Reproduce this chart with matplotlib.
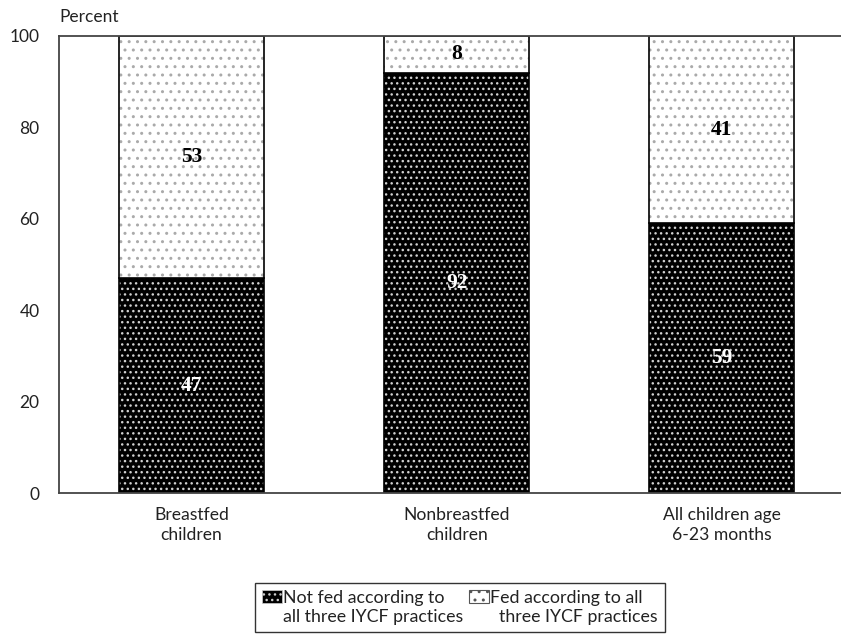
import matplotlib
matplotlib.use("Agg")
import matplotlib.pyplot as plt
import matplotlib.patches as mpatches
from matplotlib.legend_handler import HandlerPatch
import numpy as np

categories = ["Breastfed\nchildren", "Nonbreastfed\nchildren", "All children age\n6-23 months"]
not_fed = [47, 92, 59]
fed = [53, 8, 41]
series_labels = ["Not fed according to\nall three IYCF practices", "Fed according to all\n  three IYCF practices"]
yticks = [0, 20, 40, 60, 80, 100]

plt.rcParams['font.family'] = ['Lato', 'DejaVu Sans']
plt.rcParams['hatch.linewidth'] = 1.0
TXT = '#222222'

fig = plt.figure(figsize=(8.41, 6.36), dpi=100)
ax = fig.add_axes([59/841, 1-493/636, 1-59/841, (493-36)/636])

x = np.arange(len(categories))
w = 0.546

# dark segments
ax.bar(x, not_fed, width=w, color='black', edgecolor='none', linewidth=0)
ax.bar(x, not_fed, width=w, color='none', edgecolor='#d0d0d0', hatch='...', linewidth=0)
ax.bar(x, not_fed, width=w, color='none', edgecolor='black', linewidth=1.2)
# light segments
ax.bar(x, fed, bottom=not_fed, width=w, color='white', edgecolor='none', linewidth=0)
ax.bar(x, fed, bottom=not_fed, width=w, color='none', edgecolor='#aaaaaa', hatch='..', linewidth=0)
ax.bar(x, fed, bottom=not_fed, width=w, color='none', edgecolor='black', linewidth=1.2)

for xi, a, b in zip(x, not_fed, fed):
    ax.text(xi, a/2, str(a), ha='center', va='center', color='white',
            fontsize=15.5, fontweight='bold', family='Liberation Serif')
    ax.text(xi, a + b/2, str(b), ha='center', va='center', color='black',
            fontsize=15.5, fontweight='bold', family='Liberation Serif')

ax.set_xlim(-0.5, 2.45)
ax.set_ylim(0, 100)
ax.set_yticks(yticks)
ax.set_yticklabels([str(t) for t in yticks], fontsize=12.5, color=TXT)
ax.set_xticks(x)
ax.set_xticklabels(categories, fontsize=12.6, color=TXT, linespacing=1.35)
ax.tick_params(axis='x', length=0, pad=10)
ax.tick_params(axis='y', length=0, pad=14)
ax.spines['right'].set_visible(False)
for s in ['left', 'top', 'bottom']:
    ax.spines[s].set_color('#444444')
    ax.spines[s].set_linewidth(1.3)

fig.text(59/841, 1-17/636, "Percent", fontsize=12.5, va='center', ha='left', color=TXT)


def raised_patch(legend, orig_handle, xdescent, ydescent, width, height, fontsize):
    shift = 0.62 * fontsize
    return mpatches.Rectangle((-xdescent, -ydescent + shift), width, height)


h1 = mpatches.Patch(facecolor='black', edgecolor='#cccccc', hatch='...', linewidth=0.5)
h2 = mpatches.Patch(facecolor='white', edgecolor='#555555', hatch='..', linewidth=0.8)
leg = fig.legend([h1, h2], series_labels, loc='upper left',
                 bbox_to_anchor=(255/841, 1-583/636), ncol=2, fontsize=12.8,
                 frameon=True, fancybox=False, handlelength=1.1, handleheight=0.75,
                 handletextpad=0.1, columnspacing=0.3, borderpad=0.4, borderaxespad=0,
                 handler_map={mpatches.Patch: HandlerPatch(patch_func=raised_patch)})
leg.get_frame().set_edgecolor('black')
leg.get_frame().set_linewidth(1.0)
for t in leg.get_texts():
    t.set_color(TXT)

fig.savefig("out.png", dpi=100)
